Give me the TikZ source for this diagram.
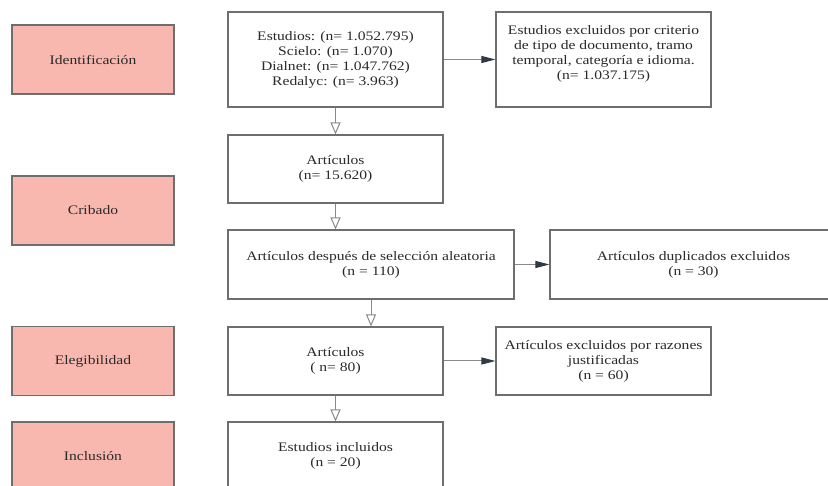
\documentclass[tikz,border=0pt]{standalone}
\usepackage{fontspec}
\setmainfont{Liberation Serif}[FakeStretch=1.2]
\usetikzlibrary{arrows.meta}
\definecolor{pinkfill}{HTML}{F9B8AF}
\definecolor{boxline}{HTML}{6E6E6E}
\definecolor{txt}{HTML}{2A2A2A}
\definecolor{arrline}{HTML}{8A8A8A}
\definecolor{arrdark}{HTML}{2E3A46}
\tikzset{
  base/.style={draw=boxline, line width=1.1pt, text=txt, align=center, inner sep=2pt,
    font=\fontsize{13}{15}\selectfont},
  stage/.style={base, fill=pinkfill, minimum width=162pt, minimum height=69pt},
  mainbox/.style={base, fill=white, minimum width=215pt, minimum height=68pt},
  sidebox/.style={base, fill=white, minimum width=215pt, minimum height=68pt},
  downarrow/.style={draw=arrline, line width=1pt, -{Triangle[length=12pt, width=10pt, fill=white, color=arrline, fill=white]}},
  rightarrow/.style={draw=arrline, line width=1pt, -{Triangle[length=14pt, width=7pt, color=arrdark]}},
}
\begin{document}
\begin{tikzpicture}[x=1pt, y=-1pt]
\useasboundingbox (0,0) rectangle (828,486);
\clip (0,0) rectangle (828,486);
\fill[white] (0,0) rectangle (828,486);
% stages
\node[stage] (s1) at (93,59.5) {Identificación};
\node[stage] (s2) at (93,210.5) {Cribado};
\node[stage] (s3) at (93,361) {Elegibilidad};
\node[stage] (s4) at (93,456.5) {Inclusión};
% main column
\node[mainbox, minimum height=95pt] (b1) at (335.5,59.5) {Estudios: (n= 1.052.795)\\Scielo: (n= 1.070)\\Dialnet: (n= 1.047.762)\\Redalyc: (n= 3.963)};
\node[mainbox] (b2) at (335.5,169) {Artículos\\(n= 15.620)};
\node[mainbox, minimum width=286pt, minimum height=69pt] (b3) at (371,264.5) {Artículos después de selección aleatoria\\(n = 110)};
\node[mainbox] (b4) at (335.5,361) {Artículos\\( n= 80)};
\node[mainbox] (b5) at (335.5,456) {Estudios incluidos\\(n = 20)};
% side boxes
\node[sidebox, minimum height=95pt] (e1) at (603.5,59.5) {Estudios excluidos por criterio\\de tipo de documento, tramo\\temporal, categoría e idioma.\\(n= 1.037.175)\\\mbox{}};
\node[sidebox, minimum width=287pt, minimum height=69pt] (e2) at (693.5,264.5) {Artículos duplicados excluidos\\(n = 30)};
\node[sidebox] (e3) at (603.5,361) {Artículos excluidos por razones\\justificadas\\(n = 60)};
% arrows
\draw[downarrow] (b1.south) -- (b2.north);
\draw[downarrow] (b2.south) -- (b2.south |- b3.north);
\draw[downarrow] (b3.south) -- (b3.south |- b4.north);
\draw[downarrow] (b4.south) -- (b5.north);
\draw[rightarrow] (b1.east) -- (e1.west);
\draw[rightarrow] (b3.east) -- (e2.west);
\draw[rightarrow] (b4.east) -- (e3.west);
\end{tikzpicture}
\end{document}
